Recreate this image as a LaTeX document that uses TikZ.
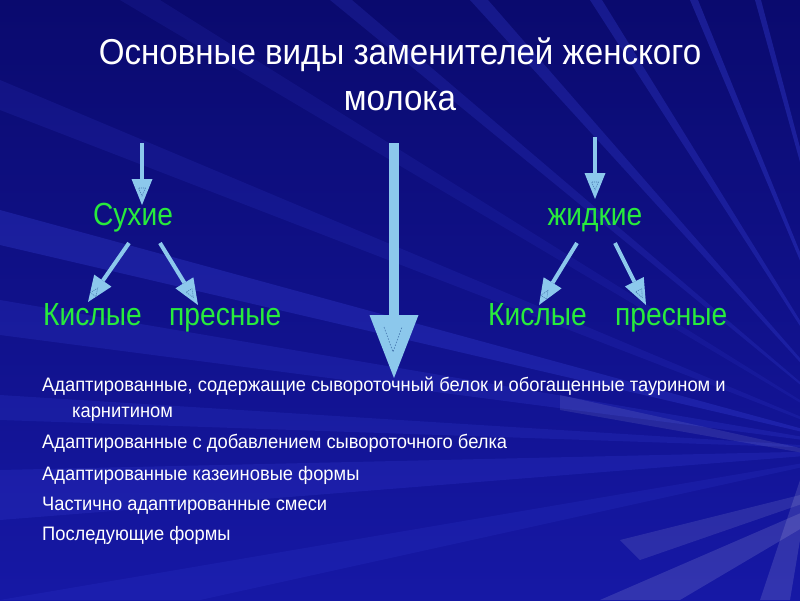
\documentclass[tikz,border=0pt]{standalone}
\usepackage{fontspec}
\setmainfont{Liberation Sans}
\newfontfamily\ttlfont[FakeStretch=0.92]{Liberation Sans}
\newfontfamily\kindfont[FakeStretch=0.88]{Liberation Sans}
\newfontfamily\itemfont[FakeStretch=0.94]{Liberation Sans}
\usetikzlibrary{arrows.meta,calc}
\definecolor{bgA}{RGB}{10,10,110}
\definecolor{bgB}{RGB}{22,24,165}
\definecolor{ray}{RGB}{60,70,225}
\definecolor{grn}{RGB}{40,235,60}
\definecolor{arrc}{RGB}{140,200,236}
\definecolor{dashc}{RGB}{70,120,175}
\begin{document}
\begin{tikzpicture}[x=1pt,y=-1pt,
  titletext/.style={text=white,font=\ttlfont\fontsize{36}{46}\selectfont,align=center,inner sep=0pt},
  kind/.style={text=grn,font=\kindfont\fontsize{32}{34}\selectfont,inner sep=0pt},
  item/.style={text=white,font=\itemfont\fontsize{19.5}{26}\selectfont,inner sep=0pt,anchor=base west,align=left},
  arr/.style={draw=arrc,line width=4pt,-{Triangle[length=26pt,width=21pt,line width=0pt]}},
  bigarr/.style={draw=arrc,line width=10pt,-{Triangle[length=63pt,width=49pt,line width=0pt]}},
  dtri/.pic={\draw[-,dashc,line width=0.6pt,dash pattern=on 1pt off 1pt] (-4,-3.5) -- (4,0) -- (-4,3.5) -- cycle;},
  rayfill/.style={fill=ray,opacity=#1}
]
\useasboundingbox (0,0) rectangle (800,600);
\shade[top color=bgA,bottom color=bgB] (0,0) rectangle (800,600);
\begin{scope}
  \clip (0,0) rectangle (800,600);
  \coordinate (F) at (880,450);
  \fill[rayfill=.28] (F) -- (0,210) -- (0,245) -- cycle;
  \fill[rayfill=.20] (F) -- (0,300) -- (0,335) -- cycle;
  \fill[rayfill=.18] (F) -- (0,395) -- (0,420) -- cycle;
  \fill[rayfill=.20] (F) -- (0,470) -- (0,520) -- cycle;
  \fill[rayfill=.15] (F) -- (0,80) -- (0,110) -- cycle;
  \fill[rayfill=.13] (F) -- (120,0) -- (160,0) -- cycle;
  \fill[rayfill=.20] (F) -- (330,0) -- (352,0) -- cycle;
  \fill[rayfill=.25] (F) -- (470,0) -- (488,0) -- cycle;
  \fill[rayfill=.28] (F) -- (590,0) -- (602,0) -- cycle;
  \fill[rayfill=.32] (F) -- (690,0) -- (698,0) -- cycle;
  \fill[rayfill=.32] (F) -- (755,0) -- (761,0) -- cycle;
  \fill[rayfill=.15] (F) -- (0,600) -- (200,600) -- cycle;
  \fill[white,opacity=.09] (900,470) -- (560,395) -- (560,410) -- cycle;
  \fill[white,opacity=.12] (900,470) -- (600,600) -- (680,600) -- cycle;
  \fill[white,opacity=.10] (900,470) -- (620,540) -- (640,560) -- cycle;
  \fill[white,opacity=.12] (820,420) -- (760,600) -- (790,600) -- cycle;
\end{scope}

\node[titletext,anchor=base] (title) at (400,110) {Основные виды заменителей женского\\молока};

\node[kind,anchor=base] (sux) at (133,225) {Сухие};
\node[kind,anchor=base] (zhid) at (595,225) {жидкие};
\node[kind,anchor=base west] (k1) at (43,325) {Кислые};
\node[kind,anchor=base west] (p1) at (169,325) {пресные};
\node[kind,anchor=base west] (k2) at (488,325) {Кислые};
\node[kind,anchor=base west] (p2) at (615,325) {пресные};

\node[item] (i1) at (42,417) {Адаптированные, содержащие сывороточный белок и обогащенные таурином и\\\hspace*{30pt}карнитином};
\node[item] (i2) at (42,448) {Адаптированные с добавлением сывороточного белка};
\node[item] (i3) at (42,480) {Адаптированные казеиновые формы};
\node[item] (i4) at (42,510) {Частично адаптированные смеси};
\node[item] (i5) at (42,540) {Последующие формы};

\coordinate (s1) at (142,143);
\coordinate (e1) at (142,205);
\coordinate (s2) at (595,137);
\coordinate (e2) at (595,199);
\coordinate (bs) at (394,143);
\coordinate (be) at (394,378);
\coordinate (sk1) at (129,243);
\coordinate (ek1) at (88,302);
\coordinate (sp1) at (160,243);
\coordinate (ep1) at (198,305);
\coordinate (sk2) at (577,243);
\coordinate (ek2) at (539,305);
\coordinate (sp2) at (615,243);
\coordinate (ep2) at (646,305);

\draw[arr] (s1) -- (e1) pic[pos=.79,sloped]{dtri};
\draw[arr] (s2) -- (e2) pic[pos=.79,sloped]{dtri};
\draw[arr] (sk1) -- (ek1) pic[pos=.82,sloped]{dtri};
\draw[arr] (sp1) -- (ep1) pic[pos=.82,sloped]{dtri};
\draw[arr] (sk2) -- (ek2) pic[pos=.82,sloped]{dtri};
\draw[arr] (sp2) -- (ep2) pic[pos=.82,sloped]{dtri};
\draw[bigarr] (bs) -- (be);
\draw[dashc,line width=0.6pt,dash pattern=on 1.5pt off 1.5pt] (384,327) -- (393,352) -- (402,327);
\end{tikzpicture}
\end{document}
